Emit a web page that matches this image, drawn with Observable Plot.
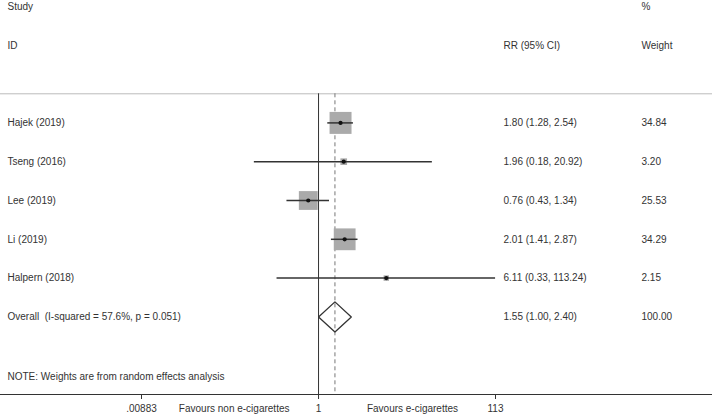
<!DOCTYPE html>
<html>
<head>
<meta charset="utf-8">
<script src="https://cdn.jsdelivr.net/npm/d3@7"></script>
<script src="https://cdn.jsdelivr.net/npm/@observablehq/plot@0.6"></script>
<style>
  html, body { margin: 0; padding: 0; background: #fff; }
  svg text { white-space: pre; }
</style>
</head>
<body>
<div id="chart"></div>
<script>
// ---- data ----
const studies = ["Hajek (2019)", "Tseng (2016)", "Lee (2019)", "Li (2019)", "Halpern (2018)"];
const rr      = [1.80, 1.96, 0.76, 2.01, 6.11];
const lo      = [1.28, 0.18, 0.43, 1.41, 0.33];
const hi      = [2.54, 20.92, 1.34, 2.87, 113.24];
const weight  = [34.84, 3.20, 25.53, 34.29, 2.15];

const overallLabel = "Overall  (I-squared = 57.6%, p = 0.051)";
const overallRR = 1.55, overallLo = 1.00, overallHi = 2.40, overallWeight = 100.00;

const noteText = "NOTE: Weights are from random effects analysis";
const headerTop = ["Study", "", "%"];
const headerBottom = ["ID", "RR (95% CI)", "Weight"];

const xTicks = [0.00883, 1, 113];
const xTickLabels = [".00883", "1", "113"];
const favoursLabels = ["Favours non e-cigarettes", "Favours e-cigarettes"];
const favoursAt = [0.105, 12.3];

// ---- table built from arrays ----
const fmt = v => v.toFixed(2);
const rows = studies.map((s, i) => ({
  row: i, label: s, rr: rr[i], lo: lo[i], hi: hi[i], weight: weight[i],
  ci: `${fmt(rr[i])} (${fmt(lo[i])}, ${fmt(hi[i])})`, w: fmt(weight[i])
}));
const overallRow = {
  row: studies.length, label: overallLabel, rr: overallRR, lo: overallLo, hi: overallHi,
  ci: `${fmt(overallRR)} (${fmt(overallLo)}, ${fmt(overallHi)})`, w: fmt(overallWeight)
};
const allRows = [...rows, overallRow];
const dh = 0.387;
const diamond = [
  {x: overallLo, y: overallRow.row},
  {x: overallRR, y: overallRow.row - dh},
  {x: overallHi, y: overallRow.row},
  {x: overallRR, y: overallRow.row + dh},
  {x: overallLo, y: overallRow.row}
];
const colDx = [7, 503, 641];
const headerCols = [0, 1, 2].map(c => [
  {row: -3, t: headerTop[c]},
  {row: -2, t: headerBottom[c]}
].filter(d => d.t));
const favours = favoursLabels.map((t, i) => ({t, x: favoursAt[i]}));
const tickRows = xTicks.map((x, i) => ({x, t: xTickLabels[i]}));

const ink = "#333";
const maxW = d3.max(weight);

const chart = Plot.plot({
  width: 712,
  height: 417,
  marginTop: 6,
  marginBottom: 23,
  marginLeft: 0,
  marginRight: 0,
  style: {fontFamily: "'Liberation Sans', Arial, sans-serif", fontSize: "10px", color: ink, background: "#fff"},
  x: {type: "log", domain: [xTicks[0], xTicks[2]], range: [141, 495]},
  y: {domain: [-3, 7], reverse: true, axis: null},
  r: {type: "sqrt", domain: [0, maxW], range: [0, 12.4]},
  marks: [
    // separator and axis line
    Plot.ruleY([-0.75], {stroke: "#bbb", strokeWidth: 1}),
    Plot.ruleY([7], {stroke: ink, strokeWidth: 1}),
    // reference lines
    Plot.ruleX([1], {y1: -0.75, y2: 7, stroke: ink, strokeWidth: 1}),
    Plot.ruleX([overallRR], {y1: -0.75, y2: 7, stroke: "#777", strokeWidth: 1, strokeDasharray: "4,3"}),
    // weight boxes
    Plot.dot(rows, {x: "rr", y: "row", r: "weight", symbol: "square", fill: "#aaaaaa", stroke: null}),
    // CIs
    Plot.ruleY(rows, {x1: "lo", x2: "hi", y: "row", stroke: ink, strokeWidth: 1.5}),
    // point estimates
    Plot.dot(rows, {x: "rr", y: "row", r: 2.1, fill: "#111", stroke: null}),
    // overall diamond
    Plot.line(diamond, {x: "x", y: "y", stroke: ink, strokeWidth: 1.3, curve: "linear"}),
    // table text
    Plot.text(allRows, {y: "row", text: "label", frameAnchor: "left", dx: colDx[0], textAnchor: "start", fill: ink}),
    Plot.text(allRows, {y: "row", text: "ci", frameAnchor: "left", dx: colDx[1], textAnchor: "start", fill: ink}),
    Plot.text(allRows, {y: "row", text: "w", frameAnchor: "left", dx: colDx[2], textAnchor: "start", fill: ink}),
    ...headerCols.map((hc, c) =>
      Plot.text(hc, {y: "row", text: "t", frameAnchor: "left", dx: colDx[c], textAnchor: "start", fill: ink})),
    Plot.text([noteText], {y: [6.55], text: d => d, frameAnchor: "left", dx: colDx[0], textAnchor: "start", fill: ink}),
    // axis ticks and labels
    Plot.axisX(xTicks, {anchor: "bottom", tickSize: 5, stroke: ink, tickFormat: () => "", label: null}),
    Plot.text(tickRows, {x: "x", text: "t", frameAnchor: "bottom", dy: 17, fill: ink}),
    Plot.text(favours, {x: "x", text: "t", frameAnchor: "bottom", dy: 17, fill: ink})
  ]
});
document.getElementById("chart").appendChild(chart);
</script>
</body>
</html>
